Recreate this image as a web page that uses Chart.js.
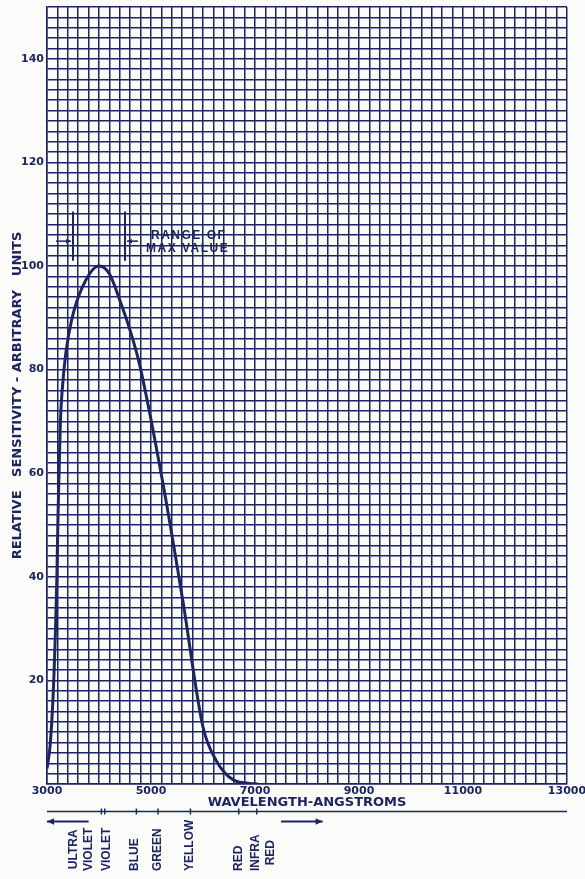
<!DOCTYPE html>
<html><head><meta charset="utf-8">
<script src="https://cdn.jsdelivr.net/npm/chart.js@4/dist/chart.umd.min.js"></script>
<style>html,body{margin:0;padding:0;background:#fcfcfa}#wrap{width:585px;height:879px}canvas{display:block}</style>
</head><body><div id="wrap"><canvas id="c" width="585" height="879"></canvas></div>
<script>
// ---- data ----
const wavelengths = [3000,3065,3130,3190,3212,3232,3258,3296,3360,3470,3680,4000,4200,4400,4600,4780,5230,5610,6000,6250,6580,6900,7050];
const sensitivity = [3,8,20,40,52,60,70,76.5,83,89.4,95.9,100,98.5,93.4,87.5,81,58,35.5,11,4.6,0.8,0.1,0];
const xTickLabels = [3000,5000,7000,9000,11000,13000];
const yTickLabels = [20,40,60,80,100,120,140];
const rangeOfMax = [3500,4500];
const rangeText = ['RANGE OF','MAX VALUE'];
const bandLabels = [['ULTRA','VIOLET'],['VIOLET'],['BLUE'],['GREEN'],['YELLOW'],['RED'],['INFRA','RED']];
const bandPositions = [3654,4142,4686,5135,5744,6687,7162];
const bandTicks = [4046,4110,4719,5135,5758,6687,7033];
const bandArrows = [[3800,3000],[7500,8300]];

const NAVY = '#1b2566';

function arrow(ctx, x0, y0, x1, y1, head){
  ctx.beginPath(); ctx.moveTo(x0,y0); ctx.lineTo(x1,y1); ctx.stroke();
  const dir = Math.sign(x1-x0);
  ctx.beginPath(); ctx.moveTo(x1,y1); ctx.lineTo(x1-dir*head, y1-head*0.45); ctx.lineTo(x1-dir*head, y1+head*0.45); ctx.closePath(); ctx.fill();
}

const annot = {
  id:'annot',
  afterDraw(chart){
    const {ctx, scales:{x,y}} = chart;
    ctx.save();
    ctx.strokeStyle = NAVY; ctx.fillStyle = NAVY;
    // range of max value
    const xl = x.getPixelForValue(rangeOfMax[0]), xr = x.getPixelForValue(rangeOfMax[1]);
    const yt = y.getPixelForValue(110.5), yb = y.getPixelForValue(101);
    ctx.lineWidth = 2;
    [xl,xr].forEach(px=>{ctx.beginPath();ctx.moveTo(px,yt);ctx.lineTo(px,yb);ctx.stroke();});
    const ya = y.getPixelForValue(104.8);
    ctx.lineWidth = 1.5;
    arrow(ctx, xl-17, ya, xl-2, ya, 5);
    arrow(ctx, xr+13, ya, xr+2, ya, 5);
    ctx.font = 'bold 12px "Liberation Sans"';
    ctx.letterSpacing = '1.5px';
    ctx.textAlign='left'; ctx.textBaseline='middle';
    ctx.fillText(rangeText[0], xr+26, y.getPixelForValue(105.8));
    ctx.fillText(rangeText[1], xr+21, y.getPixelForValue(103.3));
    ctx.letterSpacing = '0px';
    // spectrum band line
    const lineY = x.bottom + 1.5;
    ctx.lineWidth = 1.5;
    ctx.beginPath(); ctx.moveTo(x.left, lineY); ctx.lineTo(x.right, lineY); ctx.stroke();
    bandTicks.forEach(w=>{const px=x.getPixelForValue(w);ctx.beginPath();ctx.moveTo(px,lineY-3);ctx.lineTo(px,lineY+3);ctx.stroke();});
    ctx.lineWidth = 2;
    bandArrows.forEach(([a,b])=>arrow(ctx, x.getPixelForValue(a), lineY+10, x.getPixelForValue(b), lineY+10, 7));
    // band labels (vertical)
    ctx.font = 'bold 12px "Liberation Sans"';
    bandLabels.forEach((lines,i)=>{
      const cx = x.getPixelForValue(bandPositions[i]);
      const maxW = Math.max(...lines.map(l=>ctx.measureText(l).width));
      const cy = 871 - maxW/2;
      lines.forEach((l,j)=>{
        const lx = cx + (j-(lines.length-1)/2)*15;
        ctx.save(); ctx.translate(lx, cy); ctx.rotate(-Math.PI/2);
        ctx.textAlign='center'; ctx.textBaseline='middle';
        ctx.fillText(l,0,0); ctx.restore();
      });
    });
    ctx.restore();
  }
};

function zeroPad(s){ s.paddingLeft=0; s.paddingRight=0; s.paddingTop=0; s.paddingBottom=0; }

new Chart(document.getElementById('c'), {
  type:'line',
  data:{datasets:[{
    data: wavelengths.map((w,i)=>({x:w,y:sensitivity[i]})),
    borderColor:NAVY, borderWidth:3, pointRadius:0, fill:false,
    cubicInterpolationMode:'monotone'
  }]},
  options:{
    responsive:false, animation:false, devicePixelRatio:1,
    layout:{padding:{top:7,right:18,left:0,bottom:69}},
    plugins:{legend:{display:false},tooltip:{enabled:false}},
    scales:{
      x:{
        type:'linear', min:3000, max:13000,
        afterFit(s){s.height=26; zeroPad(s);},
        ticks:{stepSize:200, autoSkip:false, maxRotation:0, minRotation:0, padding:1,
          color:NAVY, font:{family:'DejaVu Sans', weight:'bold', size:11},
          callback:v=> xTickLabels.includes(v) ? String(v) : ''},
        grid:{color:NAVY, lineWidth:1.5, drawTicks:false},
        border:{color:NAVY, width:1.5},
        title:{display:true, text:'WAVELENGTH-ANGSTROMS', color:NAVY,
          font:{family:'DejaVu Sans', weight:'bold', size:13}, padding:{top:0,bottom:0}}
      },
      y:{
        min:0, max:150,
        afterFit(s){s.width=47; zeroPad(s);},
        ticks:{stepSize:2, autoSkip:false, padding:3,
          color:NAVY, font:{family:'DejaVu Sans', weight:'bold', size:11},
          callback:v=> yTickLabels.includes(v) ? String(v) : ''},
        grid:{color:NAVY, lineWidth:1.5, drawTicks:false},
        border:{color:NAVY, width:1.5},
        title:{display:true, text:'RELATIVE   SENSITIVITY - ARBITRARY   UNITS', color:NAVY,
          font:{family:'DejaVu Sans', weight:'bold', size:13}, padding:{top:10,bottom:0}}
      }
    }
  },
  plugins:[annot]
});
</script>
</body></html>
